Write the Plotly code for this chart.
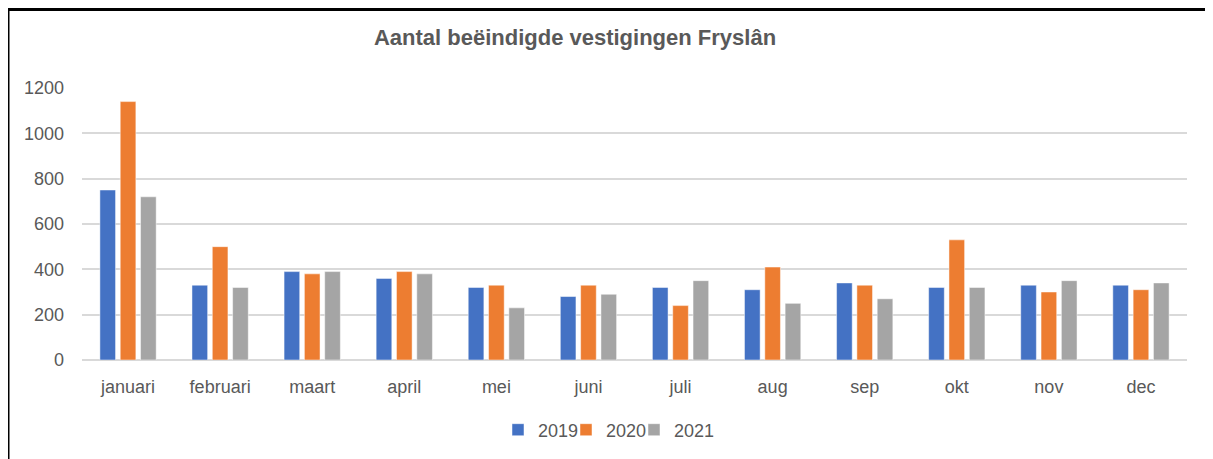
import plotly.graph_objects as go

months = ["januari", "februari", "maart", "april", "mei", "juni", "juli",
          "aug", "sep", "okt", "nov", "dec"]
v2019 = [750, 330, 390, 360, 320, 280, 320, 310, 340, 320, 330, 330]
v2020 = [1140, 500, 380, 390, 330, 330, 240, 410, 330, 530, 300, 310]
v2021 = [720, 320, 390, 380, 230, 290, 350, 250, 270, 320, 350, 340]
series_names = ["2019", "2020", "2021"]
colors = ["#4472C4", "#ED7D31", "#A5A5A5"]
y_ticks = [0, 200, 400, 600, 800, 1000, 1200]

# page is offset by the 8px body margin; work in page pixels
OFF = 8
W, H = 1213, 459
PL, PR, PT, PB = 82, 1187, 88, 360  # plot area in page pixels
L = PL - OFF
T = PT - OFF
R = W - (PR - OFF)
B = H - (PB - OFF)
pw, ph = PR - PL, PB - PT

def px(x):
    return (x - PL) / pw

def py(y):
    return (PB - y) / ph

FONT = "Liberation Sans, Arial, sans-serif"
TXT = "#595959"

fig = go.Figure()
for name, vals, col in zip(series_names, [v2019, v2020, v2021], colors):
    fig.add_trace(go.Bar(
        x=months, y=vals, name=name,
        marker=dict(color=col, line=dict(color="rgba(255,255,255,0.6)", width=0.8)),
    ))
# invisible spacer entry so the last legend label is not clipped
fig.add_trace(go.Scatter(x=[None], y=[None], mode="markers", name=" ",
                         marker=dict(color="rgba(0,0,0,0)"), hoverinfo="skip"))

fig.update_layout(
    width=W, height=H,
    margin=dict(l=L, r=R, t=T, b=B, pad=0),
    paper_bgcolor="white", plot_bgcolor="white",
    barmode="group", bargap=0.338, bargroupgap=0.23,
    font=dict(family=FONT, size=18, color=TXT),
    title=dict(text="<b>Aantal beëindigde vestigingen Fryslân</b>",
               x=px(575), xref="paper", xanchor="center",
               y=1 - (37 - OFF) / H, yref="container", yanchor="middle",
               font=dict(family=FONT, size=22, color=TXT)),
    showlegend=True,
    legend=dict(orientation="h", x=px(498), xanchor="left",
                y=py(430), yanchor="middle",
                font=dict(family=FONT, size=18, color=TXT),
                itemwidth=30, entrywidth=23, entrywidthmode="pixels",
                tracegroupgap=0, traceorder="normal"),
    xaxis=dict(showgrid=False, showline=False, zeroline=False,
               ticks="", ticklabelstandoff=14,
               tickfont=dict(family=FONT, size=18, color=TXT)),
    yaxis=dict(range=[0, 1200], tickvals=y_ticks, showgrid=True,
               gridcolor="#D9D9D9", gridwidth=1.5, zeroline=True,
               zerolinecolor="#D9D9D9", zerolinewidth=1.5, showline=False,
               ticks="", ticklabelstandoff=17,
               tickfont=dict(family=FONT, size=18, color=TXT)),
    shapes=[
        dict(type="line", xref="paper", yref="paper",
             x0=px(8), x1=px(8), y0=py(9), y1=py(480),
             line=dict(color="black", width=3)),
        dict(type="line", xref="paper", yref="paper",
             x0=px(7), x1=px(1240), y0=py(9.5), y1=py(9.5),
             line=dict(color="black", width=3)),
    ],
)

fig.write_html("out.html")
